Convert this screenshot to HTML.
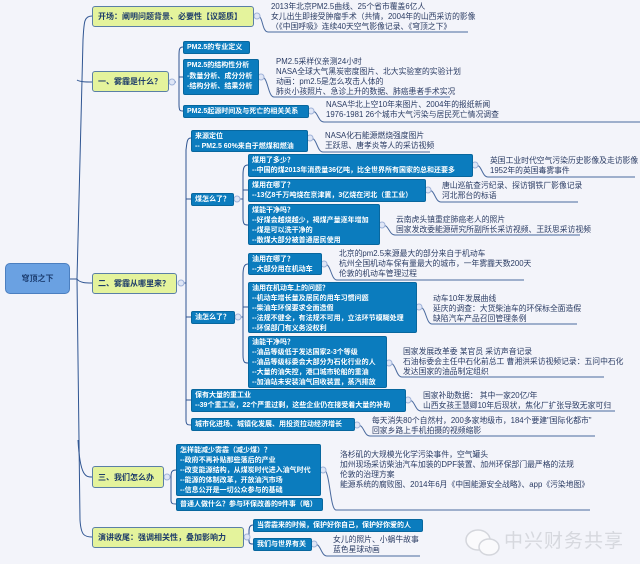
<!DOCTYPE html>
<html><head><meta charset="utf-8"><style>
*{margin:0;padding:0;box-sizing:border-box}
body{width:640px;height:564px;background:#f3f4fa;position:relative;overflow:hidden;font-family:"Liberation Sans","Noto Sans CJK SC",sans-serif}
.b{position:absolute;background:#0b7cbe;color:#fff;font-weight:bold;font-size:7px;line-height:10px;padding:1px 3px;border-radius:2px;white-space:nowrap;border:1px solid #08679e;overflow:hidden}
.y{position:absolute;background:#e4f39c;color:#1c3b6a;font-weight:bold;font-size:8px;border:1px solid #5a7fa6;border-radius:3px;padding-left:5px;white-space:nowrap;display:flex;align-items:center;overflow:hidden}
.n{position:absolute;font-size:7.8px;line-height:10px;color:#2a3b63;white-space:nowrap}
svg{position:absolute;left:0;top:0}
</style></head><body>
<svg width="640" height="564" fill="none" stroke="#2f5592" stroke-width="1">
<path d="M70 279 H77"/>
<path d="M92 16 C84 16 84 22 83 40 L77 279 L80 520 C81 535 84 537 92 537"/>
<path d="M77 80 C80 82 86 82 92 82"/>
<path d="M77 279 C80 283 86 283 92 283"/>
<path d="M78 440 C80 477 86 477 92 477"/>
<path d="M172 82 H176 M183 47 C179 47 179 50 179 56 L179 104 C179 111 180 111 183 111 M179 77 H183"/>
<path d="M181 283 H186 M191 138 C187 138 187 142 186 150 L186 420 C186 425 188 425 191 425 M186 199 H191 M186 317 H191 M186 400 H191"/>
<path d="M237 199 H243 M248 165 C244 165 243 168 243 175 L243 218 C243 225 245 225 248 225 M243 190 H248"/>
<path d="M238 317 H243 M248 264 C244 264 243 268 243 275 L243 355 C243 363 245 363 248 363 M243 307 H248"/>
<path d="M167 477 H171 M176 470 C172 470 171 472 171 476 L171 500 C171 504 173 504 176 504"/>
<path d="M247 537 H249 M253 525 C250 525 249 528 249 531 L249 541 C249 544 251 544 253 544"/>
<g stroke="#4a6a9e">
<path d="M258 16 C263 16 262 32 268 32 H468"/>
<path d="M262 77 C268 77 268 97 274 97 H450"/>
<path d="M312 111 C318 111 318 122 324 122 H640"/>
<path d="M311 138 C317 138 317 152 323 152 H430"/>
<path d="M476 165 C482 165 482 177 488 177 H635"/>
<path d="M429 190 C435 190 435 202 441 202 H578"/>
<path d="M383 225 C389 225 389 235 395 235 H580"/>
<path d="M325 264 C331 264 331 280 337 280 H524"/>
<path d="M420 307 C426 307 426 324 432 324 H577"/>
<path d="M390 363 C396 363 396 377 402 377 H604"/>
<path d="M409 400 C415 400 415 411 421 411 H615"/>
<path d="M358 425 C364 425 364 436 370 436 H595"/>
<path d="M324 470 C330 470 330 510 336 510 H590"/>
<path d="M315 544 C321 544 321 556 327 556 H420"/>
</g>
<g fill="#dfe6f6" stroke="#9fb2d8">
<circle cx="257" cy="16" r="3"/><circle cx="172" cy="82" r="3"/><circle cx="261" cy="77" r="3"/><circle cx="311" cy="111" r="3"/>
<circle cx="181" cy="283" r="3"/><circle cx="310" cy="138" r="3"/><circle cx="237" cy="199" r="3"/><circle cx="475" cy="165" r="3"/>
<circle cx="428" cy="190" r="3"/><circle cx="382" cy="225" r="3"/><circle cx="238" cy="317" r="3"/><circle cx="324" cy="264" r="3"/>
<circle cx="419" cy="307" r="3"/><circle cx="389" cy="363" r="3"/><circle cx="408" cy="400" r="3"/><circle cx="357" cy="425" r="3"/>
<circle cx="167" cy="477" r="3"/><circle cx="323" cy="470" r="3"/><circle cx="247" cy="537" r="3"/><circle cx="314" cy="544" r="3"/>
</g>
<g stroke="#d4d6dc" stroke-width="1.5" fill="#fafafc">
<ellipse cx="478" cy="540" rx="12" ry="10"/><ellipse cx="489" cy="547" rx="10" ry="8"/>
</g>
</svg>

<div style="position:absolute;left:5px;top:263px;width:65px;height:31px;background:#6aa1e2;border:1px solid #4b7fc0;border-radius:5px;color:#1d3f72;font-weight:bold;font-size:8px;display:flex;align-items:center;justify-content:center">穹顶之下</div>

<div class="y" style="left:92px;top:6px;width:162px;height:21px">开场：阐明问题背景、必要性【议题质】</div>
<div class="y" style="left:92px;top:71px;width:77px;height:21px">一、雾霾是什么？</div>
<div class="y" style="left:92px;top:273px;width:85px;height:21px">二、雾霾从哪里来？</div>
<div class="y" style="left:92px;top:466px;width:72px;height:22px">三、我们怎么办</div>
<div class="y" style="left:92px;top:527px;width:152px;height:21px">演讲收尾：强调相关性，叠加影响力</div>

<div class="b" style="left:183px;top:41px;width:67px;height:13px;line-height:9px">PM2.5的专业定义</div>
<div class="b" style="left:183px;top:59px;width:76px;height:36px;line-height:10.5px">PM2.5的结构性分析<br>-数量分析、成分分析<br>-结构分析、结果分析</div>
<div class="b" style="left:183px;top:105px;width:126px;height:13px;line-height:9px">PM2.5起源时间及与死亡的相关关系</div>
<div class="b" style="left:191px;top:130px;width:117px;height:22px">来源定位<br>-- PM2.5 60%来自于燃煤和燃油</div>
<div class="b" style="left:191px;top:193px;width:43px;height:13px;line-height:9px">煤怎么了？</div>
<div class="b" style="left:248px;top:154px;width:225px;height:23px">煤用了多少？<br>--中国的煤2013年消费量36亿吨，比全世界所有国家的总和还要多</div>
<div class="b" style="left:248px;top:179px;width:178px;height:23px">煤用在哪了？<br>--13亿8千万吨烧在京津冀，3亿烧在河北（重工业）</div>
<div class="b" style="left:248px;top:204px;width:132px;height:41px">煤能干净吗？<br>--好煤会越烧越少，褐煤产量逐年增加<br>--煤是可以洗干净的<br>--散煤大部分被普通居民使用</div>
<div class="b" style="left:248px;top:253px;width:74px;height:22px">油用在哪了？<br>--大部分用在机动车</div>
<div class="b" style="left:191px;top:311px;width:44px;height:13px;line-height:9px">油怎么了？</div>
<div class="b" style="left:248px;top:282px;width:169px;height:51px">油用在机动车上的问题？<br>--机动车增长量及居民的用车习惯问题<br>--柴油车环保要求全面造假<br>--法规不健全，有法规不可用，立法环节模糊处理<br>--环保部门有义务没权利</div>
<div class="b" style="left:248px;top:336px;width:139px;height:52px">油能干净吗？<br>--油品等级低于发达国家2-3个等级<br>--油品等级标委会大部分为石化行业的人<br>--大量的油失控，港口城市轮船的重油<br>--加油站未安装油气回收装置，蒸汽排放</div>
<div class="b" style="left:191px;top:389px;width:215px;height:23px">保有大量的重工业<br>--39个重工业，22个严重过剩，这些企业仍在接受着大量的补助</div>
<div class="b" style="left:191px;top:418px;width:164px;height:13px;line-height:9px">城市化进场、城镇化发展、用投资拉动经济增长</div>
<div class="b" style="left:176px;top:444px;width:145px;height:52px">怎样能减少雾霾（减少煤）？<br>--政府不再补贴那些落后的产业<br>--改变能源结构，从煤炭时代进入油气时代<br>--能源的体制改革，开放油汽市场<br>--信息公开是一切公众参与的基础</div>
<div class="b" style="left:176px;top:498px;width:147px;height:13px;line-height:9px">普通人做什么？参与环保改善的9件事（略）</div>
<div class="b" style="left:253px;top:519px;width:170px;height:13px;line-height:9px">当雾霾来的时候，保护好你自己，保护好你爱的人</div>
<div class="b" style="left:253px;top:538px;width:59px;height:13px;line-height:9px">我们与世界有关</div>

<div class="n" style="left:271px;top:2px">2013年北京PM2.5曲线、25个省市覆盖6亿人<br>女儿出生即接受肿瘤手术（共情，2004年的山西采访的影像<br>（《中国呼吸》连续40天空气影像记录、《穹顶之下》</div>
<div class="n" style="left:276px;top:57px">PM2.5采样仪亲测24小时<br>NASA全球大气黑炭密度图片、北大实验室的实验计划<br>动画：pm2.5是怎么攻击人体的<br>肺炎小孩照片、急诊上升的数据、肺癌患者手术实况</div>
<div class="n" style="left:326px;top:100px">NASA华北上空10年来图片、2004年的报纸新闻<br>1976-1981 26个城市大气污染与居民死亡情况调查</div>
<div class="n" style="left:325px;top:131px">NASA化石能源燃烧强度图片<br>王跃思、唐孝炎等人的采访视频</div>
<div class="n" style="left:490px;top:156px">英国工业时代空气污染历史影像及走访影像<br>1952年的英国毒雾事件</div>
<div class="n" style="left:442px;top:181px">唐山巡航查污纪录、探访钢铁厂影像记录<br>河北邢台的标语</div>
<div class="n" style="left:396px;top:215px">云南虎头镇重症肺癌老人的照片<br>国家发改委能源研究所副所长采访视频、王跃思采访视频</div>
<div class="n" style="left:339px;top:249px">北京的pm2.5来源最大的部分来自于机动车<br>杭州全国机动车保有量最大的城市，一年雾霾天数200天<br>伦敦的机动车管理过程</div>
<div class="n" style="left:433px;top:294px">动车10年发展曲线<br>延庆的调查：大货柴油车的环保标全面造假<br>缺陷汽车产品召回管理条例</div>
<div class="n" style="left:403px;top:347px">国家发展改革委 某官员 采访声音记录<br>石油标委会主任中石化前总工 曹湘洪采访视频记录：五问中石化<br>发达国家的油品制定组织</div>
<div class="n" style="left:423px;top:391px">国家补助数据： 其中一家20亿/年<br>山西女孩王慧卿10年后现状，焦化厂扩张导致无家可归</div>
<div class="n" style="left:372px;top:416px">每天消失80个自然村，200多家地级市，184个要建"国际化都市"<br>回家乡路上手机拍摄的视频缩影</div>
<div class="n" style="left:340px;top:450px">洛杉矶的大规模光化学污染事件，空气罐头<br>加州现场采访柴油汽车加装的DPF装置、加州环保部门最严格的法规<br>伦敦的治理方案<br>能源系统的腐败图、2014年6月《中国能源安全战略》、app《污染地图》</div>
<div class="n" style="left:333px;top:535px">女儿的照片、小蜗牛故事<br>蓝色星球动画</div>

<div style="position:absolute;left:504px;top:526px;font-size:19px;color:#d6d8de;letter-spacing:1px">中兴财务共享</div>
</body></html>
